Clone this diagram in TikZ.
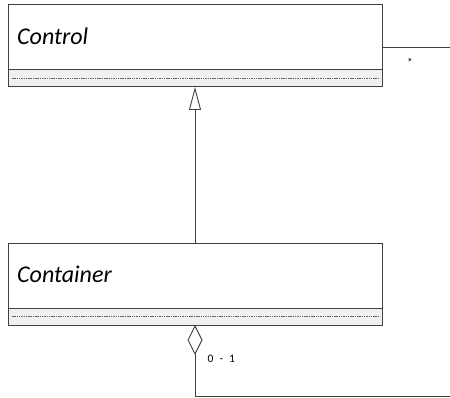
\documentclass[tikz,border=0pt]{standalone}
\usepackage{fontspec}
\setmainfont{Carlito}
\usetikzlibrary{arrows.meta}
\begin{document}
\begin{tikzpicture}[x=1pt,y=-1pt,
  classline/.style={draw=black!75, line width=1pt},
  compart/.style={fill=black!6, draw=black!75, line width=1pt},
  sepdash/.style={draw=black!60, line width=0.6pt, dash pattern=on 1.5pt off 0.8pt},
  classname/.style={anchor=base west, font=\itshape\fontsize{24}{28}\selectfont, inner sep=0pt},
  mult/.style={font=\fontsize{11.5}{13}\selectfont, inner sep=0pt},
  conn/.style={draw=black!75, line width=0.9pt}]
\useasboundingbox (0,0) rectangle (450,398);

% Control class
\draw[classline, fill=white] (8,5) rectangle (382,70);
\draw[compart] (8,70) rectangle (382,87);
\draw[sepdash] (12,78) -- (378,78);
\node[classname] (controlname) at (17,45) {Control};
\coordinate (ctrlbottom) at (195,87);
\coordinate (ctrlright) at (382,47);

% Container class
\draw[classline, fill=white] (8,244) rectangle (382,308);
\draw[compart] (8,308) rectangle (382,325);
\draw[sepdash] (12,316.5) -- (378,316.5);
\node[classname] (containername) at (17,283) {Container};
\coordinate (contop) at (195,244);
\coordinate (conbottom) at (195,325);

% generalization: Container -> Control
\draw[conn, -{Triangle[open, length=23pt, width=12pt]}] (contop) -- (ctrlbottom);

% aggregation from Container, wrapping round to Control
\coordinate (corner) at (195,396);
\coordinate (farend) at (450,396);
\coordinate (ctrlend) at (450,47);
\draw[conn, {Diamond[open, length=30pt, width=15pt]}-] (conbottom) -- (corner) -- (farend);
\draw[conn] (ctrlright) -- (ctrlend);

\node[mult, anchor=north] (mstar) at (410,58.5) {*};
\node[mult, anchor=base west] (mzero) at (207.5,362.5) {0 \hspace{3.5pt}- \hspace{3.5pt}1};
\end{tikzpicture}
\end{document}
